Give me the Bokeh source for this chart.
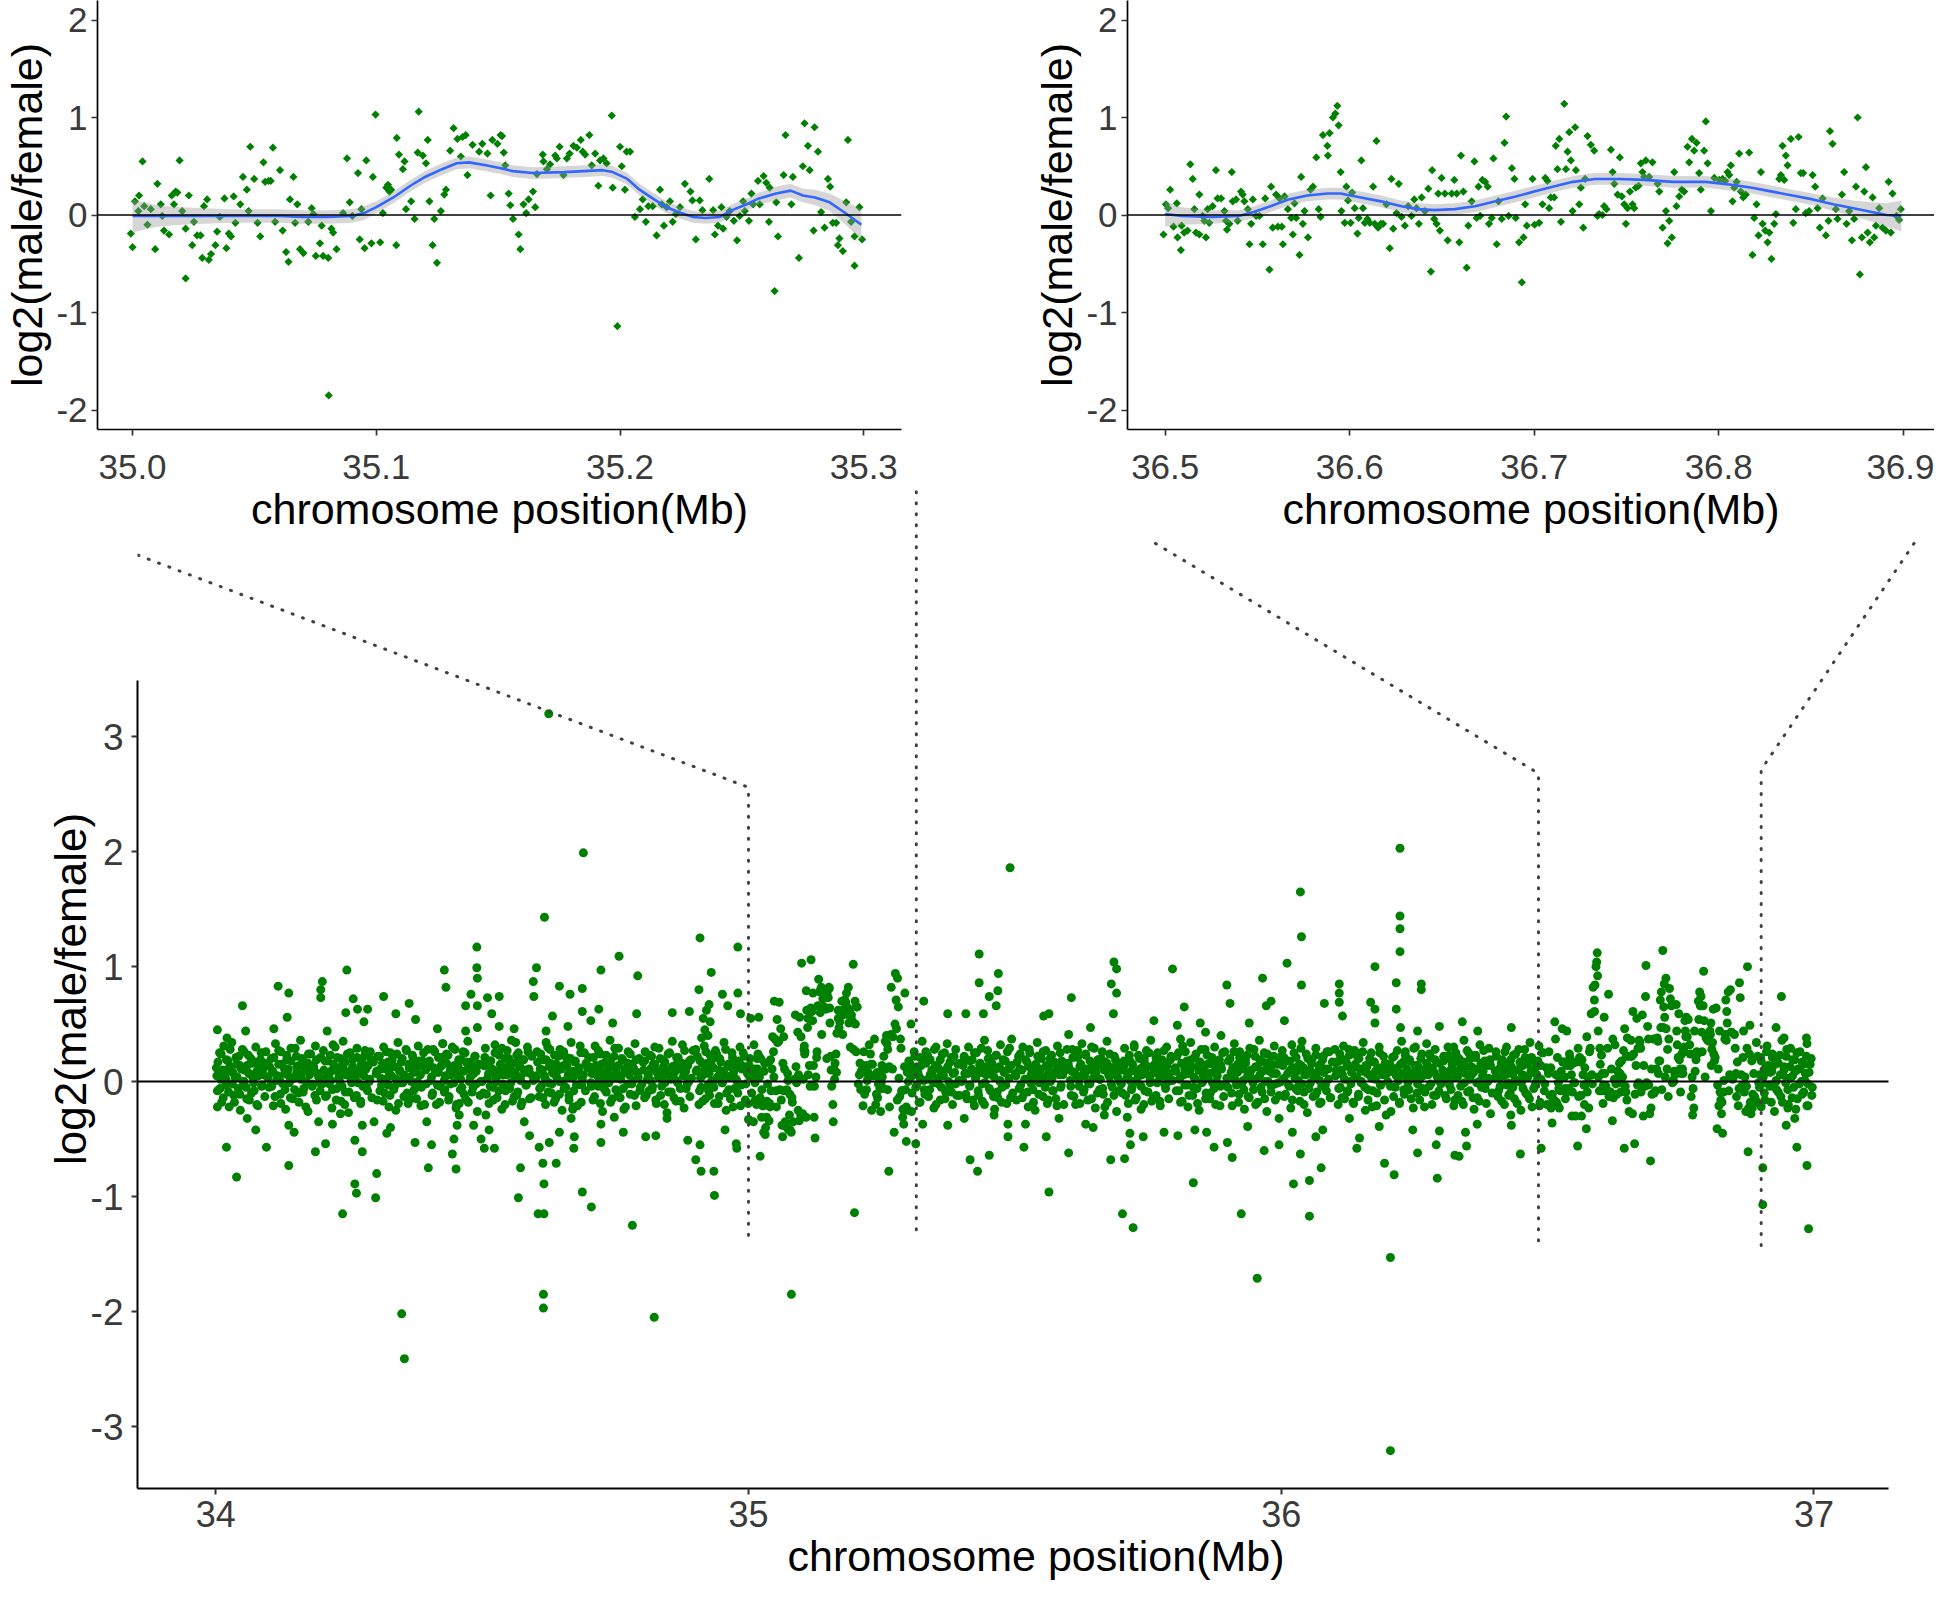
import math
from bokeh.plotting import figure
from bokeh.layouts import column, row
from bokeh.models import Range1d, Span, FixedTicker, NumeralTickFormatter
from bokeh.embed import file_html
from bokeh.resources import INLINE

FONT = "Liberation Sans"
POINT_GREEN = "#008000"
SMOOTH_BLUE = "#3366FF"
BAND_GREY = "#999999"
GUIDE_GREY = "#404040"

X_TITLE = "chromosome position(Mb)"
Y_TITLE = "log2(male/female)"

tl_ticks = [35.0, 35.1, 35.2, 35.3]
tr_ticks = [36.5, 36.6, 36.7, 36.8, 36.9]
top_y_ticks = [-2, -1, 0, 1, 2]
bottom_x_ticks = [34, 35, 36, 37]
bottom_y_ticks = [-3, -2, -1, 0, 1, 2, 3]

# ---------------- top-left window (35.0 - 35.3 Mb) ----------------
tl_points = [
(34.9993,-0.19),(35.0,-0.33),(35.001,0.14),(35.0027,0.20),(35.0024,0.04),(35.0041,0.55),(35.0048,0.09),(35.0061,-0.10),(35.0075,0.06),(35.0093,-0.35),(35.0102,0.32),(35.0116,0.11),(35.0122,-0.01),(35.0129,-0.16),(35.015,-0.20),(35.0161,0.20),(35.017,0.11),(35.0177,0.24),(35.0184,0.23),(35.0193,0.56),(35.0204,0.04),(35.0218,-0.14),(35.0218,-0.65),(35.0231,0.20),(35.0245,-0.31),(35.0252,-0.07),(35.0265,-0.21),(35.0279,-0.21),(35.0286,-0.44),(35.0293,0.09),(35.0306,0.16),(35.0313,-0.46),(35.0322,-0.40),(35.034,-0.31),(35.0347,-0.17),(35.0358,-0.02),(35.0377,0.17),(35.0385,-0.34),(35.0395,-0.19),(35.0404,-0.22),(35.0415,0.19),(35.0422,-0.08),(35.0442,0.11),(35.0453,0.39),(35.0469,0.26),(35.0476,0.04),(35.0483,0.70),(35.0499,0.37),(35.0513,-0.08),(35.0524,-0.22),(35.0537,0.54),(35.0544,0.34),(35.0558,0.35),(35.0567,0.35),(35.0576,0.69),(35.0585,-0.07),(35.0605,0.46),(35.0616,-0.16),(35.063,-0.38),(35.064,-0.48),(35.0646,0.16),(35.066,0.39),(35.0667,-0.08),(35.0676,0.11),(35.0687,-0.35),(35.0701,-0.39),(35.0721,-0.07),(35.0735,0.07),(35.0742,0.01),(35.0752,-0.42),(35.0769,-0.29),(35.0776,-0.11),(35.0782,-0.42),(35.0803,-0.44),(35.0805,-1.85),(35.0816,-0.14),(35.0823,-0.18),(35.0837,-0.35),(35.0864,0.02),(35.088,0.58),(35.0891,0.13),(35.0902,-0.01),(35.0925,0.43),(35.0932,-0.25),(35.0939,0.06),(35.0952,-0.34),(35.0959,0.56),(35.098,-0.29),(35.0986,0.39),(35.0997,1.03),(35.1016,-0.28),(35.1027,0.02),(35.1041,0.28),(35.1048,0.31),(35.1054,0.24),(35.1061,0.26),(35.1082,-0.31),(35.1084,0.79),(35.1093,0.62),(35.1109,0.47),(35.1116,0.55),(35.1122,0.06),(35.1143,0.14),(35.1157,-0.04),(35.117,0.64),(35.1174,1.06),(35.1191,0.61),(35.1204,0.53),(35.1211,0.77),(35.1218,0.14),(35.1231,-0.31),(35.1238,-0.04),(35.1249,-0.49),(35.1265,0.04),(35.1279,0.21),(35.1286,0.26),(35.1303,0.66),(35.1317,0.89),(35.1333,0.78),(35.1347,0.60),(35.1354,0.80),(35.1367,0.82),(35.1374,0.41),(35.1395,0.72),(35.1422,0.65),(35.1435,0.73),(35.1456,0.63),(35.1469,0.20),(35.1476,0.77),(35.1497,0.73),(35.151,0.82),
(35.1516,0.81),(35.1523,0.64),(35.1529,0.51),(35.1543,0.22),(35.155,0.10),(35.1561,-0.04),(35.1584,-0.20),(35.1591,-0.35),(35.1604,0.11),(35.1615,0.02),(35.1625,0.16),(35.1643,0.24),(35.1652,0.08),(35.1659,0.42),(35.1683,0.62),(35.1686,0.55),(35.17,0.47),(35.1713,0.52),(35.1734,0.61),(35.1741,0.58),(35.1752,0.70),(35.1768,0.41),(35.1782,0.58),(35.1793,0.63),(35.1809,0.71),(35.1823,0.69),(35.1839,0.77),(35.1847,0.65),(35.1857,0.62),(35.1874,0.82),(35.1884,0.51),(35.1898,0.63),(35.1911,0.30),(35.1918,0.56),(35.1932,0.58),(35.1945,0.53),(35.1966,1.02),(35.197,0.28),(35.1989,-1.14),(35.2,0.70),(35.2007,0.50),(35.202,0.26),(35.2027,0.65),(35.2041,0.65),(35.2061,-0.02),(35.2082,0.06),(35.2093,0.16),(35.2106,-0.07),(35.2116,0.09),(35.2134,0.09),(35.215,-0.21),(35.2164,0.26),(35.2171,0.11),(35.218,-0.11),(35.2191,0.08),(35.2205,0.14),(35.2216,-0.07),(35.2229,0.01),(35.2246,0.08),(35.2266,0.32),(35.2289,0.24),(35.2297,0.15),(35.2311,-0.25),(35.2327,0.15),(35.2338,0.05),(35.2366,0.37),(35.2382,0.05),(35.2389,-0.20),(35.2402,-0.11),(35.2416,0.08),(35.2423,-0.14),(35.2437,-0.02),(35.245,0.04),(35.2467,-0.06),(35.248,-0.26),(35.2491,-0.01),(35.2505,0.14),(35.2512,0.04),(35.2529,-0.06),(35.2539,0.22),(35.2546,0.11),(35.2566,0.35),(35.2573,0.11),(35.2589,0.40),(35.26,0.33),(35.2614,0.28),(35.2611,-0.07),(35.2634,-0.78),(35.2641,0.13),(35.2648,-0.22),(35.2671,0.41),(35.2679,0.82),(35.2703,0.11),(35.2709,0.39),(35.2734,-0.44),(35.275,0.50),(35.2757,0.94),(35.2771,0.71),(35.2778,0.46),(35.2794,-0.16),(35.2798,0.90),(35.2812,0.65),(35.2825,0.03),(35.2839,-0.13),(35.2853,0.37),(35.2862,0.29),(35.2873,-0.08),(35.2887,-0.08),(35.2894,-0.31),(35.29,-0.24),(35.2914,-0.37),(35.2928,0.13),(35.2935,0.77),(35.2948,-0.07),(35.2962,-0.52),(35.2962,-0.22),(35.2982,0.08),(35.2993,-0.25),
]
tl_smooth_x = [35.000,35.010,35.020,35.030,35.040,35.050,35.060,35.070,35.080,35.090,35.095,35.100,35.107,35.114,35.120,35.127,35.133,35.138,35.145,35.151,35.156,35.164,35.177,35.185,35.193,35.197,35.203,35.208,35.214,35.219,35.225,35.230,35.235,35.241,35.246,35.252,35.257,35.264,35.270,35.275,35.280,35.286,35.293,35.299]
tl_smooth_y = [-0.01,-0.01,-0.01,-0.01,-0.01,-0.01,-0.01,-0.02,-0.02,-0.01,0.02,0.08,0.18,0.30,0.39,0.47,0.53,0.54,0.51,0.48,0.45,0.43,0.44,0.45,0.46,0.44,0.37,0.26,0.16,0.08,0.02,-0.02,-0.03,-0.02,0.05,0.11,0.17,0.22,0.25,0.20,0.18,0.13,0.01,-0.10]
tl_smooth_se = [0.17,0.11,0.09,0.08,0.07,0.07,0.07,0.07,0.07,0.07,0.07,0.06,0.06,0.06,0.06,0.06,0.06,0.06,0.06,0.06,0.06,0.06,0.06,0.06,0.06,0.06,0.06,0.06,0.06,0.06,0.06,0.06,0.06,0.06,0.06,0.06,0.06,0.07,0.07,0.07,0.08,0.09,0.12,0.16]

# ---------------- top-right window (36.5 - 36.9 Mb) ----------------
tr_points = [
(36.4991,-0.20),(36.5004,0.11),(36.5016,0.07),(36.5027,0.26),(36.5045,-0.12),(36.5063,0.12),(36.5067,-0.23),(36.5085,-0.36),(36.5089,-0.11),(36.5103,-0.18),(36.5121,-0.16),(36.5136,0.52),(36.5149,0.37),(36.5158,0.06),(36.5167,-0.18),(36.5185,0.21),(36.5185,-0.20),(36.5203,-0.01),(36.5212,-0.06),(36.5221,-0.23),(36.523,0.06),(36.5239,-0.08),(36.5257,0.09),(36.5275,0.46),(36.5284,0.17),(36.5303,0.17),(36.5321,0.04),(36.533,-0.06),(36.5335,-0.15),(36.5348,-0.09),(36.5361,0.44),(36.5366,0.14),(36.5384,0.16),(36.5393,-0.06),(36.5411,0.24),(36.542,0.21),(36.5429,0.14),(36.5448,0.06),(36.5457,-0.30),(36.5466,-0.09),(36.5475,0.16),(36.5493,-0.01),(36.5511,-0.01),(36.5529,-0.30),(36.5542,0.17),(36.5565,-0.56),(36.5574,0.29),(36.5583,-0.13),(36.5601,0.21),(36.5611,-0.12),(36.562,0.17),(36.5632,-0.12),(36.5638,-0.30),(36.5647,0.19),(36.5665,0.06),(36.5683,-0.03),(36.5692,-0.20),(36.5701,0.12),(36.571,-0.03),(36.5728,-0.41),(36.5737,0.39),(36.5746,-0.09),(36.5755,0.04),(36.5774,-0.23),(36.5788,0.26),(36.5801,0.29),(36.5819,0.59),(36.5832,0.06),(36.5842,-0.02),(36.5855,0.82),(36.5879,0.71),(36.5882,0.61),(36.5891,0.84),(36.5909,1.00),(36.5922,1.04),(36.5933,1.12),(36.594,0.92),(36.5951,0.44),(36.5955,0.04),(36.5973,-0.08),(36.5982,0.29),(36.5991,0.15),(36.6005,-0.08),(36.6013,0.23),(36.6027,0.07),(36.6042,-0.19),(36.6049,-0.03),(36.6063,0.56),(36.6072,0.07),(36.6082,-0.08),(36.6096,-0.04),(36.6109,-0.08),(36.6127,0.29),(36.6136,-0.09),(36.6145,0.76),(36.6154,-0.13),(36.6168,-0.09),(36.6181,-0.09),(36.6199,0.11),(36.6217,-0.34),(36.6226,0.37),(36.6236,-0.14),(36.6254,0.02),(36.6266,0.32),(36.6281,-0.02),(36.6299,-0.11),(36.6317,0.09),(36.6335,-0.01),(36.635,0.16),(36.6362,0.07),(36.6375,-0.09),(36.639,0.18),(36.6408,0.04),(36.6426,0.27),(36.644,-0.58),(36.6447,0.46),(36.6458,-0.04),(36.6471,-0.09),(36.648,0.22),(36.6489,-0.16),(36.6498,0.38),(36.6516,0.22),(36.6531,-0.26),(36.6553,0.22),(36.6567,0.36),(36.658,0.22),(36.6594,-0.28),(36.6603,0.61),(36.6616,0.24),(36.6634,-0.54),(36.6643,-0.11),(36.6661,0.14),(36.6676,0.55),(36.6688,-0.03),(36.6698,0.29),(36.6707,-0.01),(36.6719,0.36),(36.6734,0.34),(36.6748,0.29),(36.6755,-0.09),(36.677,-0.03),(36.6779,0.58),(36.6797,-0.30),(36.6806,0.14),(36.6824,-0.04),(36.6839,0.74),(36.6848,1.01),(36.6861,-0.01),(36.6879,0.48),(36.6893,0.37),(36.69,-0.03),(36.6918,-0.28),(36.6933,-0.69),(36.6942,-0.23),(36.6951,0.11),(36.696,-0.11),(36.6991,0.37),(36.7002,-0.10),
(36.7027,-0.08),(36.7045,0.11),(36.706,0.38),(36.7072,0.35),(36.7081,0.07),(36.709,0.18),(36.7108,0.18),(36.7117,0.71),(36.7126,0.47),(36.7136,0.78),(36.7145,-0.07),(36.7163,1.14),(36.7172,0.47),(36.7181,0.65),(36.719,0.85),(36.7199,0.56),(36.7208,0.04),(36.7222,0.90),(36.7226,0.46),(36.7244,0.11),(36.7253,0.28),(36.7266,-0.13),(36.7276,0.37),(36.7289,0.81),(36.7307,0.72),(36.7325,0.66),(36.7343,-0.01),(36.7352,0.01),(36.737,0.00),(36.7379,0.09),(36.7392,0.06),(36.7416,0.67),(36.7425,0.44),(36.7434,0.32),(36.7452,0.21),(36.7464,0.59),(36.7475,0.19),(36.7488,0.11),(36.7497,-0.09),(36.7506,0.07),(36.7519,0.24),(36.7533,0.11),(36.7542,0.07),(36.7551,0.28),(36.7566,0.30),(36.7578,0.53),(36.7587,0.44),(36.7596,0.39),(36.7605,0.56),(36.7623,0.39),(36.7641,0.54),(36.7669,0.32),(36.7678,0.24),(36.7696,-0.13),(36.7714,0.04),(36.7723,-0.29),(36.7732,-0.06),(36.7746,-0.23),(36.7759,0.44),(36.7771,0.09),(36.7786,0.19),(36.78,0.26),(36.7813,0.24),(36.7831,0.70),(36.784,0.54),(36.7855,0.78),(36.7867,0.66),(36.788,0.74),(36.7894,0.43),(36.7903,0.26),(36.7921,0.66),(36.793,0.96),(36.794,0.53),(36.7958,0.04),(36.7976,0.38),(36.8003,0.36),(36.8021,0.37),(36.8035,0.35),(36.8048,0.44),(36.8057,0.41),(36.8066,0.51),(36.8075,0.14),(36.8084,0.28),(36.8097,0.34),(36.8111,0.63),(36.812,0.24),(36.8133,0.18),(36.8147,0.21),(36.8165,0.64),(36.8183,-0.41),(36.8192,-0.03),(36.8205,0.11),(36.8216,-0.21),(36.8229,0.44),(36.8238,-0.09),(36.8252,-0.16),(36.8265,-0.28),(36.8274,-0.18),(36.8286,-0.45),(36.8301,-0.09),(36.831,0.01),(36.8328,0.37),(36.8337,0.41),(36.8346,0.71),(36.8355,0.36),(36.8364,0.61),(36.8373,0.51),(36.8391,0.78),(36.8404,-0.08),(36.8418,0.06),(36.8433,0.80),(36.8445,0.43),(36.8458,0.43),(36.8472,0.02),(36.849,0.04),(36.8509,0.41),(36.8523,0.29),(36.8536,0.07),(36.8548,-0.13),(36.8563,0.17),(36.8581,-0.21),(36.8595,-0.06),(36.8603,0.86),(36.8617,0.73),(36.8635,0.06),(36.8644,-0.04),(36.8668,0.21),(36.868,0.44),(36.8693,-0.09),(36.8707,0.04),(36.8722,-0.26),(36.8734,-0.04),(36.8744,0.29),(36.8753,1.00),(36.8765,-0.61),(36.8776,-0.23),(36.8789,0.24),(36.8798,0.49),(36.8807,-0.18),(36.8819,-0.28),(36.8834,0.18),(36.8843,-0.23),(36.8852,-0.11),(36.887,0.07),(36.8888,-0.13),(36.8906,-0.16),(36.8921,0.34),(36.8933,-0.18),(36.8942,0.22),(36.8964,-0.01),(36.8978,-0.05),(36.8987,0.06),
]
tr_smooth_x = [36.500,36.509,36.525,36.540,36.548,36.557,36.567,36.577,36.588,36.595,36.606,36.617,36.628,36.637,36.646,36.657,36.668,36.679,36.690,36.700,36.710,36.721,36.733,36.746,36.760,36.775,36.793,36.807,36.818,36.829,36.840,36.851,36.862,36.873,36.883,36.891,36.899]
tr_smooth_y = [0.01,-0.01,-0.02,-0.01,0.03,0.09,0.16,0.20,0.22,0.22,0.18,0.14,0.09,0.06,0.05,0.06,0.09,0.14,0.19,0.24,0.29,0.34,0.37,0.37,0.36,0.34,0.34,0.31,0.28,0.24,0.20,0.16,0.11,0.07,0.03,0.00,-0.01]
tr_smooth_se = [0.13,0.09,0.07,0.06,0.06,0.06,0.06,0.06,0.06,0.06,0.06,0.06,0.06,0.06,0.06,0.06,0.06,0.06,0.06,0.06,0.06,0.06,0.06,0.06,0.06,0.06,0.06,0.06,0.06,0.06,0.06,0.06,0.07,0.08,0.10,0.12,0.16]

# ---------------- whole region (34 - 37 Mb): points outside the two windows ----------------
bottom_points = [
(34.003,0.45),(34.021,0.38),(34.050,0.66),(34.056,0.44),(34.109,0.46),(34.117,0.83),(34.137,0.77),(34.134,0.56),(34.200,0.87),(34.197,0.80),(34.197,0.73),(34.209,0.44),(34.246,0.97),(34.258,0.72),(34.244,0.60),(34.266,0.63),(34.285,0.63),(34.278,0.52),(34.315,0.74),(34.338,0.59),(34.363,0.68),(34.375,0.54),(34.429,0.97),(34.432,0.82),(34.416,0.46),(34.426,0.33),(34.490,1.17),(34.490,0.99),(34.491,0.90),(34.479,0.76),(34.469,0.66),(34.491,0.66),(34.510,0.73),(34.532,0.74),(34.518,0.59),(34.532,0.48),(34.469,0.44),(34.491,0.47),(34.560,0.46),(34.563,0.34),(34.617,1.43),(34.602,0.99),(34.596,0.87),(34.597,0.74),(34.632,0.57),(34.645,0.83),(34.665,0.76),(34.620,0.44),(34.661,0.48),(34.620,0.34),
(34.003,-0.22),(34.020,-0.57),(34.039,-0.83),(34.059,-0.32),(34.075,-0.42),(34.095,-0.57),(34.137,-0.38),(34.147,-0.44),(34.137,-0.73),(34.187,-0.61),(34.193,-0.35),(34.206,-0.54),(34.219,-0.37),(34.234,-0.28),(34.238,-1.15),(34.261,-0.89),(34.264,-0.97),(34.261,-0.51),(34.275,-0.38),(34.275,-0.61),(34.297,-0.35),(34.302,-0.80),(34.300,-1.01),(34.321,-0.45),(34.328,-0.40),(34.374,-0.53),(34.396,-0.35),(34.405,-0.55),(34.399,-0.75),(34.444,-0.63),(34.447,-0.50),(34.453,-0.38),(34.457,-0.29),(34.457,-0.19),(34.451,-0.76),(34.484,-0.38),(34.498,-0.50),(34.504,-0.58),(34.523,-0.58),(34.513,-0.42),(34.507,-0.29),(34.572,-0.75),(34.568,-1.01),(34.579,-0.35),(34.589,-0.47),(34.607,-0.57),(34.605,-1.15),(34.616,-1.15),(34.614,-0.71),(34.616,-0.89),(34.626,-0.53),(34.639,-0.71),(34.645,-0.44),(34.667,-0.32),(34.672,-0.58),(34.670,-0.24),
(34.625,3.20),(34.349,-2.02),(34.354,-2.41),(34.615,-1.97),(34.615,-1.85),(34.823,-2.05),
(34.690,1.99),(34.688,0.81),(34.688,0.61),(34.704,0.53),(34.719,0.63),(34.723,0.97),(34.757,1.09),(34.745,0.51),(34.792,0.92),(34.790,0.59),(34.857,0.60),(34.889,0.61),(34.909,1.25),(34.907,0.80),(34.930,0.95),(34.926,0.67),(34.951,0.76),(34.961,0.66),(34.980,1.17),(34.980,0.77),(34.985,0.59),
(34.915,0.55),(34.918,0.45),(34.921,0.62),(34.924,0.40),(34.928,0.52),(34.912,0.38),
(34.673,-0.48),(34.688,-0.96),(34.705,-1.09),(34.723,-0.37),(34.723,-0.53),(34.748,-0.31),(34.765,-0.44),(34.782,-1.25),(34.807,-0.48),(34.826,-0.47),(34.847,-0.32),(34.886,-0.51),(34.909,-0.55),(34.901,-0.68),(34.911,-0.78),(34.935,-0.78),(34.936,-0.99),(34.956,-0.42),(34.978,-0.58),(34.977,-0.54),
(35.329,0.70),(35.305,0.50),(35.374,0.59),(35.408,0.59),(35.433,1.11),(35.433,0.86),(35.469,0.94),(35.468,0.79),(35.452,0.74),(35.465,0.66),(35.441,0.59),(35.491,1.86),(35.494,0.37),
(35.314,-0.54),(35.327,-0.37),(35.374,-0.38),(35.405,-0.32),(35.416,-0.68),(35.430,-0.78),(35.452,-0.64),(35.461,-0.29),(35.487,-0.48),(35.487,-0.37),
(36.223,2.03),(36.036,1.65),(36.038,1.26),(36.223,1.44),(36.223,1.33),(36.223,1.13),(36.011,1.03),(36.176,1.00),(36.216,0.86),(36.216,0.63),(36.263,0.85),(36.263,0.80),(36.168,0.69),(36.176,0.63),(36.176,0.51),(36.224,0.47),(36.109,0.85),(36.109,0.77),(36.109,0.69),(36.115,0.57),(36.081,0.68),(36.038,0.84),(35.965,0.90),(35.898,0.84),(35.904,0.68),(35.818,0.65),(35.796,0.98),(35.686,1.04),(35.691,0.98),(35.681,0.85),(35.691,0.77),(35.685,0.59),(35.606,0.73),(35.554,0.57),(35.564,0.59),(35.805,0.49),(35.761,0.53),(35.848,0.51),(35.972,0.66),(35.981,0.70),(36.006,0.53),(36.297,0.48),(36.256,0.44),(35.811,0.37),(35.858,0.43),(35.642,0.47),(35.601,0.41),(35.887,0.40),(35.940,0.51),
(35.517,-0.57),(35.520,-0.37),(35.564,-0.96),(35.559,-0.48),(35.583,-0.32),(35.601,-0.62),(35.633,-0.37),(35.647,-0.40),(35.668,-0.29),(35.680,-0.68),(35.702,-1.15),(35.722,-1.27),(35.706,-0.67),(35.717,-0.55),(35.716,-0.45),(35.711,-0.31),(35.741,-0.48),(35.780,-0.44),(35.806,-0.47),(35.835,-0.88),(35.838,-0.42),(35.860,-0.44),(35.874,-0.57),(35.899,-0.53),(35.908,-0.66),(35.925,-1.15),(35.937,-0.39),(35.968,-0.60),(35.996,-0.55),(35.996,-0.32),(36.021,-0.44),(36.023,-0.89),(36.036,-0.63),(36.053,-0.86),(36.053,-1.17),(36.075,-0.75),(36.065,-0.48),(36.078,-0.42),(36.128,-0.32),(36.142,-0.58),(36.147,-0.49),(36.184,-0.39),(36.197,-0.29),(36.194,-0.71),(36.212,-0.81),(36.247,-0.42),(36.256,-0.62),(36.291,-0.55),(36.293,-0.84),(36.297,-0.43),(36.326,-0.64),
(35.955,-1.71),(36.205,-1.53),(36.205,-3.21),
(36.340,0.52),(36.369,0.44),(36.432,0.47),
(36.334,-0.65),(36.348,-0.56),(36.346,-0.44),(36.368,-0.37),(36.393,-0.28),(36.432,-0.38),(36.431,-0.29),(36.449,-0.63),(36.488,-0.58),
(36.939,0.74),(36.929,0.47),(36.944,0.38),(36.986,0.38),
(36.904,-0.75),(36.904,-1.07),(36.901,-0.22),(36.948,-0.38),(36.964,-0.32),(36.951,-0.23),(36.968,-0.57),(36.987,-0.73),(36.990,-1.28),(36.987,-0.21),
]

# dense core of the cloud (estimated), outside the two windows - first layer
band_x = [
34.001,34.003,34.007,34.009,34.011,34.015,34.017,34.019,34.023,34.025,34.028,34.030,34.034,34.036,34.038,34.042,34.045,34.046,34.050,34.053,34.054,34.058,34.061,34.063,34.067,34.069,34.071,34.075,34.077,34.080,34.084,34.086,34.088,34.092,34.094,34.098,
34.100,34.104,34.106,34.108,34.112,34.114,34.118,34.121,34.122,34.126,34.129,34.131,34.133,34.137,34.140,34.141,34.144,34.148,34.151,34.152,34.156,34.159,34.160,34.164,34.166,34.170,34.173,34.174,34.178,34.181,34.183,34.187,34.189,34.191,34.195,34.197,
34.202,34.205,34.206,34.210,34.213,34.216,34.218,34.220,34.224,34.227,34.228,34.232,34.235,34.237,34.239,34.243,34.244,34.247,34.249,34.254,34.255,34.257,34.262,34.264,34.265,34.268,34.272,34.273,34.276,34.279,34.282,34.285,34.289,34.290,34.293,34.296,
34.301,34.303,34.307,34.309,34.311,34.315,34.317,34.319,34.323,34.325,34.328,34.330,34.334,34.336,34.338,34.342,34.345,34.346,34.350,34.353,34.354,34.358,34.361,34.363,34.367,34.369,34.371,34.375,34.377,34.380,34.384,34.386,34.388,34.392,34.394,34.398,
34.400,34.404,34.406,34.408,34.412,34.414,34.418,34.421,34.422,34.426,34.429,34.431,34.433,34.437,34.440,34.441,34.444,34.448,34.451,34.452,34.456,34.459,34.460,34.464,34.466,34.470,34.473,34.474,34.478,34.481,34.483,34.487,34.489,34.491,34.495,34.497,
34.502,34.505,34.506,34.510,34.513,34.516,34.518,34.520,34.524,34.527,34.528,34.532,34.535,34.537,34.539,34.543,34.544,34.547,34.549,34.554,34.555,34.557,34.562,34.564,34.565,34.568,34.572,34.573,34.576,34.579,34.582,34.585,34.589,34.590,34.593,34.596,
34.601,34.603,34.607,34.609,34.611,34.615,34.617,34.619,34.623,34.625,34.628,34.630,34.634,34.636,34.638,34.642,34.645,34.646,34.650,34.653,34.654,34.658,34.661,34.663,34.667,34.669,34.671,34.675,34.677,34.680,34.684,34.686,34.688,34.692,34.694,34.698,
34.700,34.704,34.706,34.708,34.712,34.714,34.718,34.721,34.722,34.726,34.729,34.731,34.733,34.737,34.740,34.741,34.744,34.748,34.751,34.752,34.756,34.759,34.760,34.764,34.766,34.770,34.773,34.774,34.778,34.781,34.783,34.787,34.789,34.791,34.795,34.797,
34.802,34.805,34.806,34.810,34.813,34.816,34.818,34.820,34.824,34.827,34.828,34.832,34.835,34.837,34.839,34.843,34.844,34.847,34.849,34.854,34.855,34.857,34.862,34.864,34.865,34.868,34.872,34.873,34.876,34.879,34.882,34.885,34.889,34.890,34.893,34.896,
34.901,34.903,34.907,34.909,34.911,34.915,34.917,34.919,34.923,34.925,34.928,34.930,34.934,34.936,34.938,34.942,34.945,34.946,34.950,34.953,34.954,34.958,34.961,34.963,34.967,34.969,34.971,34.975,34.977,34.980,34.984,34.986,34.988,34.992,34.994,34.998,
35.300,35.304,35.306,35.308,35.312,35.314,35.318,35.321,35.322,35.326,35.329,35.331,35.333,35.337,35.340,35.341,35.344,35.348,35.351,35.352,35.356,35.359,35.360,35.364,35.366,35.370,35.373,35.374,35.378,35.381,35.383,35.387,35.389,35.391,35.395,35.397,
35.402,35.405,35.406,35.410,35.413,35.416,35.418,35.420,35.424,35.427,35.428,35.432,35.435,35.437,35.439,35.443,35.444,35.447,35.449,35.454,35.455,35.457,35.462,35.464,35.465,35.468,35.472,35.473,35.476,35.479,35.482,35.485,35.489,35.490,35.493,35.496,
35.501,35.503,35.507,35.509,35.511,35.515,35.517,35.519,35.523,35.525,35.528,35.530,35.534,35.536,35.538,35.542,35.545,35.546,35.550,35.553,35.554,35.558,35.561,35.563,35.567,35.569,35.571,35.575,35.577,35.580,35.584,35.586,35.588,35.592,35.594,35.598,
35.600,35.604,35.606,35.608,35.612,35.614,35.618,35.621,35.622,35.626,35.629,35.631,35.633,35.637,35.640,35.641,35.644,35.648,35.651,35.652,35.656,35.659,35.660,35.664,35.666,35.670,35.673,35.674,35.678,35.681,35.683,35.687,35.689,35.691,35.695,35.697,
35.702,35.705,35.706,35.710,35.713,35.716,35.718,35.720,35.724,35.727,35.728,35.732,35.735,35.737,35.739,35.743,35.744,35.747,35.749,35.754,35.755,35.757,35.762,35.764,35.765,35.768,35.772,35.773,35.776,35.779,35.782,35.785,35.789,35.790,35.793,35.796,
35.801,35.803,35.807,35.809,35.811,35.815,35.817,35.819,35.823,35.825,35.828,35.830,35.834,35.836,35.838,35.842,35.845,35.846,35.850,35.853,35.854,35.858,35.861,35.863,35.867,35.869,35.871,35.875,35.877,35.880,35.884,35.886,35.888,35.892,35.894,35.898,
35.900,35.904,35.906,35.908,35.912,35.914,35.918,35.921,35.922,35.926,35.929,35.931,35.933,35.937,35.940,35.941,35.944,35.948,35.951,35.952,35.956,35.959,35.960,35.964,35.966,35.970,35.973,35.974,35.978,35.981,35.983,35.987,35.989,35.991,35.995,35.997,
36.002,36.005,36.006,36.010,36.013,36.016,36.018,36.020,36.024,36.027,36.028,36.032,36.035,36.037,36.039,36.043,36.044,36.047,36.049,36.054,36.055,36.057,36.062,36.064,36.065,36.068,36.072,36.073,36.076,36.079,36.082,36.085,36.089,36.090,36.093,36.096,
36.101,36.103,36.107,36.109,36.111,36.115,36.117,36.119,36.123,36.125,36.128,36.130,36.134,36.136,36.138,36.142,36.145,36.146,36.150,36.153,36.154,36.158,36.161,36.163,36.167,36.169,36.171,36.175,36.177,36.180,36.184,36.186,36.188,36.192,36.194,36.198,
36.200,36.204,36.206,36.208,36.212,36.214,36.218,36.221,36.222,36.226,36.229,36.231,36.233,36.237,36.240,36.241,36.244,36.248,36.251,36.252,36.256,36.259,36.260,36.264,36.266,36.270,36.273,36.274,36.278,36.281,36.283,36.287,36.289,36.291,36.295,36.297,
36.302,36.305,36.306,36.310,36.313,36.316,36.318,36.320,36.324,36.327,36.328,36.332,36.335,36.337,36.339,36.343,36.344,36.347,36.349,36.354,36.355,36.357,36.362,36.364,36.365,36.368,36.372,36.373,36.376,36.379,36.382,36.385,36.389,36.390,36.393,36.396,
36.401,36.403,36.407,36.409,36.411,36.415,36.417,36.419,36.423,36.425,36.428,36.430,36.434,36.436,36.438,36.442,36.445,36.446,36.450,36.453,36.454,36.458,36.461,36.463,36.467,36.469,36.471,36.475,36.477,36.480,36.484,36.486,36.488,36.492,36.494,36.498,
36.900,36.904,36.906,36.908,36.912,36.914,36.918,36.921,36.922,36.926,36.929,36.931,36.933,36.937,36.940,36.941,36.944,36.948,36.951,36.952,36.956,36.959,36.960,36.964,36.966,36.970,36.973,36.974,36.978,36.981,36.983,36.987,36.989,36.991,36.995,36.997,
]
band_y = [
0.12,-0.08,0.25,0.02,-0.18,0.31,0.06,-0.03,0.18,-0.22,0.09,0.34,-0.12,0.04,0.21,-0.06,0.14,-0.25,0.28,0.00,0.10,-0.15,0.23,0.07,-0.10,0.16,-0.01,0.30,-0.20,0.05,0.19,-0.04,0.11,-0.13,0.26,0.03,
-0.05,0.20,0.08,-0.21,0.33,0.01,0.15,-0.11,0.26,-0.02,0.11,-0.24,0.19,0.05,-0.14,0.29,0.03,-0.07,0.22,0.13,-0.18,0.36,0.06,-0.09,0.17,0.00,-0.26,0.24,0.09,-0.04,0.14,0.31,-0.16,0.07,-0.01,0.21,
0.27,0.03,-0.13,0.18,-0.02,0.09,-0.23,0.32,0.12,-0.06,0.21,0.01,-0.17,0.14,0.35,-0.09,0.06,0.24,-0.27,0.10,-0.01,0.19,0.04,-0.12,0.29,0.08,-0.19,0.15,-0.04,0.22,0.11,-0.08,0.02,0.26,-0.14,0.17,
0.07,-0.16,0.22,0.11,-0.03,0.30,-0.10,0.02,0.17,-0.22,0.25,0.05,-0.07,0.13,-0.25,0.34,0.09,-0.01,0.20,-0.13,0.04,0.27,-0.19,0.12,0.00,0.23,-0.08,0.16,-0.15,0.31,0.06,-0.05,0.18,-0.20,0.10,0.28,
0.16,0.01,-0.12,0.28,0.08,-0.20,0.21,-0.04,0.13,0.33,-0.09,0.05,0.24,-0.16,0.10,-0.02,0.30,0.14,-0.23,0.07,0.19,-0.07,0.02,0.26,-0.11,0.17,0.35,-0.18,0.04,0.12,-0.05,0.22,0.09,-0.26,0.15,0.00,
-0.10,0.14,0.29,0.03,-0.19,0.18,0.09,-0.05,0.32,0.00,-0.14,0.23,0.11,-0.24,0.06,0.20,-0.08,0.27,0.13,-0.01,0.36,-0.17,0.08,0.16,-0.12,0.25,0.04,-0.21,0.19,0.10,-0.03,0.30,-0.15,0.07,0.22,0.01,
0.03,0.26,-0.13,0.11,-0.04,0.19,0.05,-0.20,0.30,-0.01,0.16,-0.10,0.07,0.23,-0.15,0.10,0.00,0.28,-0.25,0.14,-0.06,0.21,0.04,-0.12,0.34,0.09,-0.22,0.18,-0.03,0.06,0.31,-0.18,0.02,0.25,-0.08,0.12,
0.21,-0.01,0.07,-0.16,0.31,0.14,-0.04,0.09,0.24,-0.26,0.00,0.17,-0.09,0.06,0.36,-0.18,0.13,0.22,-0.07,0.03,0.29,-0.14,0.05,0.19,-0.24,0.11,-0.02,0.26,-0.11,0.15,0.01,0.33,-0.21,0.08,0.20,-0.05,
0.17,-0.14,0.26,0.02,-0.08,0.11,0.22,-0.04,0.15,-0.19,0.08,0.29,-0.12,0.04,0.19,-0.01,0.10,-0.27,0.24,0.06,-0.09,0.35,0.14,-0.17,0.01,0.21,-0.06,0.12,0.32,-0.23,0.09,-0.02,0.18,-0.13,0.03,0.27,
0.28,0.10,-0.20,0.18,-0.05,0.06,0.31,-0.15,0.16,-0.08,0.23,0.00,0.12,-0.19,0.27,0.04,-0.13,0.20,-0.01,0.09,0.34,-0.25,0.13,-0.07,0.05,0.25,-0.22,0.17,0.02,-0.10,0.30,-0.03,0.11,0.22,-0.16,0.07,
0.00,0.15,-0.26,0.09,0.22,-0.05,0.12,0.04,-0.18,0.35,0.17,-0.11,0.26,0.02,-0.07,0.19,0.07,-0.23,0.14,0.30,-0.02,0.10,-0.16,0.24,0.05,-0.09,0.33,0.13,-0.04,0.21,-0.20,0.08,0.28,-0.12,0.01,0.16,
0.01,0.22,0.07,-0.15,0.30,-0.03,0.10,0.19,-0.21,0.04,0.25,-0.12,0.16,0.08,-0.17,0.36,-0.01,0.13,0.27,-0.08,0.20,0.06,-0.24,0.11,0.23,-0.14,0.00,0.32,-0.05,0.09,0.18,-0.19,0.03,0.29,0.14,-0.10,
0.07,-0.16,0.22,0.11,-0.03,0.30,-0.10,0.02,0.17,-0.22,0.25,0.05,-0.07,0.13,-0.25,0.34,0.09,-0.01,0.20,-0.13,0.04,0.27,-0.19,0.12,0.00,0.23,-0.08,0.16,-0.15,0.31,0.06,-0.05,0.18,-0.20,0.10,0.28,
0.16,0.01,-0.12,0.28,0.08,-0.20,0.21,-0.04,0.13,0.33,-0.09,0.05,0.24,-0.16,0.10,-0.02,0.30,0.14,-0.23,0.07,0.19,-0.07,0.02,0.26,-0.11,0.17,0.35,-0.18,0.04,0.12,-0.05,0.22,0.09,-0.26,0.15,0.00,
-0.10,0.14,0.29,0.03,-0.19,0.18,0.09,-0.05,0.32,0.00,-0.14,0.23,0.11,-0.24,0.06,0.20,-0.08,0.27,0.13,-0.01,0.36,-0.17,0.08,0.16,-0.12,0.25,0.04,-0.21,0.19,0.10,-0.03,0.30,-0.15,0.07,0.22,0.01,
0.12,-0.08,0.25,0.02,-0.18,0.31,0.06,-0.03,0.18,-0.22,0.09,0.34,-0.12,0.04,0.21,-0.06,0.14,-0.25,0.28,0.00,0.10,-0.15,0.23,0.07,-0.10,0.16,-0.01,0.30,-0.20,0.05,0.19,-0.04,0.11,-0.13,0.26,0.03,
-0.05,0.20,0.08,-0.21,0.33,0.01,0.15,-0.11,0.26,-0.02,0.11,-0.24,0.19,0.05,-0.14,0.29,0.03,-0.07,0.22,0.13,-0.18,0.36,0.06,-0.09,0.17,0.00,-0.26,0.24,0.09,-0.04,0.14,0.31,-0.16,0.07,-0.01,0.21,
0.27,0.03,-0.13,0.18,-0.02,0.09,-0.23,0.32,0.12,-0.06,0.21,0.01,-0.17,0.14,0.35,-0.09,0.06,0.24,-0.27,0.10,-0.01,0.19,0.04,-0.12,0.29,0.08,-0.19,0.15,-0.04,0.22,0.11,-0.08,0.02,0.26,-0.14,0.17,
0.28,0.10,-0.20,0.18,-0.05,0.06,0.31,-0.15,0.16,-0.08,0.23,0.00,0.12,-0.19,0.27,0.04,-0.13,0.20,-0.01,0.09,0.34,-0.25,0.13,-0.07,0.05,0.25,-0.22,0.17,0.02,-0.10,0.30,-0.03,0.11,0.22,-0.16,0.07,
0.00,0.15,-0.26,0.09,0.22,-0.05,0.12,0.04,-0.18,0.35,0.17,-0.11,0.26,0.02,-0.07,0.19,0.07,-0.23,0.14,0.30,-0.02,0.10,-0.16,0.24,0.05,-0.09,0.33,0.13,-0.04,0.21,-0.20,0.08,0.28,-0.12,0.01,0.16,
0.01,0.22,0.07,-0.15,0.30,-0.03,0.10,0.19,-0.21,0.04,0.25,-0.12,0.16,0.08,-0.17,0.36,-0.01,0.13,0.27,-0.08,0.20,0.06,-0.24,0.11,0.23,-0.14,0.00,0.32,-0.05,0.09,0.18,-0.19,0.03,0.29,0.14,-0.10,
0.03,0.26,-0.13,0.11,-0.04,0.19,0.05,-0.20,0.30,-0.01,0.16,-0.10,0.07,0.23,-0.15,0.10,0.00,0.28,-0.25,0.14,-0.06,0.21,0.04,-0.12,0.34,0.09,-0.22,0.18,-0.03,0.06,0.31,-0.18,0.02,0.25,-0.08,0.12,
0.21,-0.01,0.07,-0.16,0.31,0.14,-0.04,0.09,0.24,-0.26,0.00,0.17,-0.09,0.06,0.36,-0.18,0.13,0.22,-0.07,0.03,0.29,-0.14,0.05,0.19,-0.24,0.11,-0.02,0.26,-0.11,0.15,0.01,0.33,-0.21,0.08,0.20,-0.05,
]

# dense core - second layer
band2_x = [
34.002,34.004,34.008,34.010,34.013,34.014,34.019,34.020,34.024,34.026,34.027,34.031,34.032,34.035,34.039,34.040,34.043,34.045,34.048,34.051,34.053,34.057,34.059,34.062,34.063,34.066,34.070,34.072,34.074,34.077,34.079,34.082,34.085,34.087,34.090,34.095,
34.101,34.105,34.107,34.109,34.111,34.116,34.118,34.120,34.122,34.124,34.129,34.130,34.133,34.136,34.138,34.141,34.144,34.147,34.149,34.152,34.155,34.156,34.160,34.162,34.165,34.168,34.169,34.173,34.176,34.178,34.181,34.184,34.186,34.189,34.193,34.196,
34.200,34.203,34.205,34.208,34.212,34.215,34.216,34.219,34.221,34.224,34.226,34.229,34.231,34.234,34.237,34.239,34.242,34.243,34.246,34.250,34.252,34.254,34.257,34.260,34.261,34.265,34.267,34.271,34.272,34.275,34.278,34.280,34.283,34.286,34.288,34.292,
34.302,34.304,34.308,34.310,34.313,34.314,34.319,34.320,34.324,34.326,34.327,34.331,34.332,34.335,34.339,34.340,34.343,34.345,34.348,34.351,34.353,34.357,34.359,34.362,34.363,34.366,34.370,34.372,34.374,34.377,34.379,34.382,34.385,34.387,34.390,34.395,
34.401,34.405,34.407,34.409,34.411,34.416,34.418,34.420,34.422,34.424,34.429,34.430,34.433,34.436,34.438,34.441,34.444,34.447,34.449,34.452,34.455,34.456,34.460,34.462,34.465,34.468,34.469,34.473,34.476,34.478,34.481,34.484,34.486,34.489,34.493,34.496,
34.500,34.503,34.505,34.508,34.512,34.515,34.516,34.519,34.521,34.524,34.526,34.529,34.531,34.534,34.537,34.539,34.542,34.543,34.546,34.550,34.552,34.554,34.557,34.560,34.561,34.565,34.567,34.571,34.572,34.575,34.578,34.580,34.583,34.586,34.588,34.592,
34.602,34.604,34.608,34.610,34.613,34.614,34.619,34.620,34.624,34.626,34.627,34.631,34.632,34.635,34.639,34.640,34.643,34.645,34.648,34.651,34.653,34.657,34.659,34.662,34.663,34.666,34.670,34.672,34.674,34.677,34.679,34.682,34.685,34.687,34.690,34.695,
34.701,34.705,34.707,34.709,34.711,34.716,34.718,34.720,34.722,34.724,34.729,34.730,34.733,34.736,34.738,34.741,34.744,34.747,34.749,34.752,34.755,34.756,34.760,34.762,34.765,34.768,34.769,34.773,34.776,34.778,34.781,34.784,34.786,34.789,34.793,34.796,
34.800,34.803,34.805,34.808,34.812,34.815,34.816,34.819,34.821,34.824,34.826,34.829,34.831,34.834,34.837,34.839,34.842,34.843,34.846,34.850,34.852,34.854,34.857,34.860,34.861,34.865,34.867,34.871,34.872,34.875,34.878,34.880,34.883,34.886,34.888,34.892,
34.902,34.904,34.908,34.910,34.913,34.914,34.919,34.920,34.924,34.926,34.927,34.931,34.932,34.935,34.939,34.940,34.943,34.945,34.948,34.951,34.953,34.957,34.959,34.962,34.963,34.966,34.970,34.972,34.974,34.977,34.979,34.982,34.985,34.987,34.990,34.995,
35.301,35.305,35.307,35.309,35.311,35.316,35.318,35.320,35.322,35.324,35.329,35.330,35.333,35.336,35.338,35.341,35.344,35.347,35.349,35.352,35.355,35.356,35.360,35.362,35.365,35.368,35.369,35.373,35.376,35.378,35.381,35.384,35.386,35.389,35.393,35.396,
35.400,35.403,35.405,35.408,35.412,35.415,35.416,35.419,35.421,35.424,35.426,35.429,35.431,35.434,35.437,35.439,35.442,35.443,35.446,35.450,35.452,35.454,35.457,35.460,35.461,35.465,35.467,35.471,35.472,35.475,35.478,35.480,35.483,35.486,35.488,35.492,
35.502,35.504,35.508,35.510,35.513,35.514,35.519,35.520,35.524,35.526,35.527,35.531,35.532,35.535,35.539,35.540,35.543,35.545,35.548,35.551,35.553,35.557,35.559,35.562,35.563,35.566,35.570,35.572,35.574,35.577,35.579,35.582,35.585,35.587,35.590,35.595,
35.601,35.605,35.607,35.609,35.611,35.616,35.618,35.620,35.622,35.624,35.629,35.630,35.633,35.636,35.638,35.641,35.644,35.647,35.649,35.652,35.655,35.656,35.660,35.662,35.665,35.668,35.669,35.673,35.676,35.678,35.681,35.684,35.686,35.689,35.693,35.696,
35.700,35.703,35.705,35.708,35.712,35.715,35.716,35.719,35.721,35.724,35.726,35.729,35.731,35.734,35.737,35.739,35.742,35.743,35.746,35.750,35.752,35.754,35.757,35.760,35.761,35.765,35.767,35.771,35.772,35.775,35.778,35.780,35.783,35.786,35.788,35.792,
35.802,35.804,35.808,35.810,35.813,35.814,35.819,35.820,35.824,35.826,35.827,35.831,35.832,35.835,35.839,35.840,35.843,35.845,35.848,35.851,35.853,35.857,35.859,35.862,35.863,35.866,35.870,35.872,35.874,35.877,35.879,35.882,35.885,35.887,35.890,35.895,
35.901,35.905,35.907,35.909,35.911,35.916,35.918,35.920,35.922,35.924,35.929,35.930,35.933,35.936,35.938,35.941,35.944,35.947,35.949,35.952,35.955,35.956,35.960,35.962,35.965,35.968,35.969,35.973,35.976,35.978,35.981,35.984,35.986,35.989,35.993,35.996,
36.000,36.003,36.005,36.008,36.012,36.015,36.016,36.019,36.021,36.024,36.026,36.029,36.031,36.034,36.037,36.039,36.042,36.043,36.046,36.050,36.052,36.054,36.057,36.060,36.061,36.065,36.067,36.071,36.072,36.075,36.078,36.080,36.083,36.086,36.088,36.092,
36.102,36.104,36.108,36.110,36.113,36.114,36.119,36.120,36.124,36.126,36.127,36.131,36.132,36.135,36.139,36.140,36.143,36.145,36.148,36.151,36.153,36.157,36.159,36.162,36.163,36.166,36.170,36.172,36.174,36.177,36.179,36.182,36.185,36.187,36.190,36.195,
36.201,36.205,36.207,36.209,36.211,36.216,36.218,36.220,36.222,36.224,36.229,36.230,36.233,36.236,36.238,36.241,36.244,36.247,36.249,36.252,36.255,36.256,36.260,36.262,36.265,36.268,36.269,36.273,36.276,36.278,36.281,36.284,36.286,36.289,36.293,36.296,
36.300,36.303,36.305,36.308,36.312,36.315,36.316,36.319,36.321,36.324,36.326,36.329,36.331,36.334,36.337,36.339,36.342,36.343,36.346,36.350,36.352,36.354,36.357,36.360,36.361,36.365,36.367,36.371,36.372,36.375,36.378,36.380,36.383,36.386,36.388,36.392,
36.402,36.404,36.408,36.410,36.413,36.414,36.419,36.420,36.424,36.426,36.427,36.431,36.432,36.435,36.439,36.440,36.443,36.445,36.448,36.451,36.453,36.457,36.459,36.462,36.463,36.466,36.470,36.472,36.474,36.477,36.479,36.482,36.485,36.487,36.490,36.495,
36.901,36.905,36.907,36.909,36.911,36.916,36.918,36.920,36.922,36.924,36.929,36.930,36.933,36.936,36.938,36.941,36.944,36.947,36.949,36.952,36.955,36.956,36.960,36.962,36.965,36.968,36.969,36.973,36.976,36.978,36.981,36.984,36.986,36.989,36.993,36.996,
]
band2_y = [
0.05,0.17,-0.06,0.24,0.10,-0.14,0.02,0.19,-0.09,0.13,0.28,-0.02,0.08,-0.18,0.15,0.04,0.22,-0.11,0.11,0.00,0.26,-0.05,0.14,0.07,-0.16,0.20,0.03,-0.08,0.17,0.09,-0.21,0.12,0.25,-0.03,0.06,0.16,
0.13,-0.04,0.09,0.21,-0.13,0.05,0.27,0.01,-0.19,0.15,0.07,-0.07,0.23,0.11,-0.01,0.18,-0.15,0.03,0.29,0.08,-0.10,0.14,0.02,0.20,-0.06,0.10,-0.22,0.16,0.06,0.24,-0.02,0.12,-0.12,0.19,0.04,-0.08,
-0.02,0.10,0.18,-0.12,0.06,0.23,0.01,-0.07,0.15,0.30,-0.16,0.09,0.04,0.20,-0.04,0.12,-0.20,0.17,0.07,-0.09,0.25,0.02,0.13,-0.14,0.08,0.21,-0.01,0.11,-0.17,0.16,0.05,0.27,-0.06,0.14,0.00,0.19,
0.09,0.22,-0.08,0.03,0.16,-0.17,0.11,0.26,-0.03,0.07,-0.12,0.19,0.13,-0.05,0.02,0.24,-0.19,0.10,0.17,-0.01,0.06,0.28,-0.10,0.15,0.04,-0.15,0.21,0.08,-0.06,0.12,0.00,0.18,-0.21,0.14,0.25,-0.02,
0.18,0.04,-0.10,0.12,0.26,-0.03,0.08,-0.18,0.21,0.14,0.01,-0.07,0.16,0.23,-0.13,0.06,0.10,-0.01,0.28,-0.20,0.13,0.03,0.19,-0.05,0.09,0.25,-0.15,0.11,0.00,0.17,-0.09,0.07,0.22,-0.02,0.15,-0.12,
0.00,0.14,0.21,-0.11,0.07,-0.04,0.18,0.11,-0.16,0.25,0.03,0.09,-0.08,0.15,0.29,-0.02,0.12,-0.20,0.06,0.20,-0.06,0.10,0.16,-0.13,0.04,0.23,-0.09,0.13,0.01,-0.18,0.19,0.08,-0.03,0.26,0.11,-0.14,
0.05,0.17,-0.06,0.24,0.10,-0.14,0.02,0.19,-0.09,0.13,0.28,-0.02,0.08,-0.18,0.15,0.04,0.22,-0.11,0.11,0.00,0.26,-0.05,0.14,0.07,-0.16,0.20,0.03,-0.08,0.17,0.09,-0.21,0.12,0.25,-0.03,0.06,0.16,
0.13,-0.04,0.09,0.21,-0.13,0.05,0.27,0.01,-0.19,0.15,0.07,-0.07,0.23,0.11,-0.01,0.18,-0.15,0.03,0.29,0.08,-0.10,0.14,0.02,0.20,-0.06,0.10,-0.22,0.16,0.06,0.24,-0.02,0.12,-0.12,0.19,0.04,-0.08,
-0.02,0.10,0.18,-0.12,0.06,0.23,0.01,-0.07,0.15,0.30,-0.16,0.09,0.04,0.20,-0.04,0.12,-0.20,0.17,0.07,-0.09,0.25,0.02,0.13,-0.14,0.08,0.21,-0.01,0.11,-0.17,0.16,0.05,0.27,-0.06,0.14,0.00,0.19,
0.09,0.22,-0.08,0.03,0.16,-0.17,0.11,0.26,-0.03,0.07,-0.12,0.19,0.13,-0.05,0.02,0.24,-0.19,0.10,0.17,-0.01,0.06,0.28,-0.10,0.15,0.04,-0.15,0.21,0.08,-0.06,0.12,0.00,0.18,-0.21,0.14,0.25,-0.02,
0.18,0.04,-0.10,0.12,0.26,-0.03,0.08,-0.18,0.21,0.14,0.01,-0.07,0.16,0.23,-0.13,0.06,0.10,-0.01,0.28,-0.20,0.13,0.03,0.19,-0.05,0.09,0.25,-0.15,0.11,0.00,0.17,-0.09,0.07,0.22,-0.02,0.15,-0.12,
0.00,0.14,0.21,-0.11,0.07,-0.04,0.18,0.11,-0.16,0.25,0.03,0.09,-0.08,0.15,0.29,-0.02,0.12,-0.20,0.06,0.20,-0.06,0.10,0.16,-0.13,0.04,0.23,-0.09,0.13,0.01,-0.18,0.19,0.08,-0.03,0.26,0.11,-0.14,
0.05,0.17,-0.06,0.24,0.10,-0.14,0.02,0.19,-0.09,0.13,0.28,-0.02,0.08,-0.18,0.15,0.04,0.22,-0.11,0.11,0.00,0.26,-0.05,0.14,0.07,-0.16,0.20,0.03,-0.08,0.17,0.09,-0.21,0.12,0.25,-0.03,0.06,0.16,
0.13,-0.04,0.09,0.21,-0.13,0.05,0.27,0.01,-0.19,0.15,0.07,-0.07,0.23,0.11,-0.01,0.18,-0.15,0.03,0.29,0.08,-0.10,0.14,0.02,0.20,-0.06,0.10,-0.22,0.16,0.06,0.24,-0.02,0.12,-0.12,0.19,0.04,-0.08,
-0.02,0.10,0.18,-0.12,0.06,0.23,0.01,-0.07,0.15,0.30,-0.16,0.09,0.04,0.20,-0.04,0.12,-0.20,0.17,0.07,-0.09,0.25,0.02,0.13,-0.14,0.08,0.21,-0.01,0.11,-0.17,0.16,0.05,0.27,-0.06,0.14,0.00,0.19,
0.09,0.22,-0.08,0.03,0.16,-0.17,0.11,0.26,-0.03,0.07,-0.12,0.19,0.13,-0.05,0.02,0.24,-0.19,0.10,0.17,-0.01,0.06,0.28,-0.10,0.15,0.04,-0.15,0.21,0.08,-0.06,0.12,0.00,0.18,-0.21,0.14,0.25,-0.02,
0.18,0.04,-0.10,0.12,0.26,-0.03,0.08,-0.18,0.21,0.14,0.01,-0.07,0.16,0.23,-0.13,0.06,0.10,-0.01,0.28,-0.20,0.13,0.03,0.19,-0.05,0.09,0.25,-0.15,0.11,0.00,0.17,-0.09,0.07,0.22,-0.02,0.15,-0.12,
0.00,0.14,0.21,-0.11,0.07,-0.04,0.18,0.11,-0.16,0.25,0.03,0.09,-0.08,0.15,0.29,-0.02,0.12,-0.20,0.06,0.20,-0.06,0.10,0.16,-0.13,0.04,0.23,-0.09,0.13,0.01,-0.18,0.19,0.08,-0.03,0.26,0.11,-0.14,
0.05,0.17,-0.06,0.24,0.10,-0.14,0.02,0.19,-0.09,0.13,0.28,-0.02,0.08,-0.18,0.15,0.04,0.22,-0.11,0.11,0.00,0.26,-0.05,0.14,0.07,-0.16,0.20,0.03,-0.08,0.17,0.09,-0.21,0.12,0.25,-0.03,0.06,0.16,
0.13,-0.04,0.09,0.21,-0.13,0.05,0.27,0.01,-0.19,0.15,0.07,-0.07,0.23,0.11,-0.01,0.18,-0.15,0.03,0.29,0.08,-0.10,0.14,0.02,0.20,-0.06,0.10,-0.22,0.16,0.06,0.24,-0.02,0.12,-0.12,0.19,0.04,-0.08,
-0.02,0.10,0.18,-0.12,0.06,0.23,0.01,-0.07,0.15,0.30,-0.16,0.09,0.04,0.20,-0.04,0.12,-0.20,0.17,0.07,-0.09,0.25,0.02,0.13,-0.14,0.08,0.21,-0.01,0.11,-0.17,0.16,0.05,0.27,-0.06,0.14,0.00,0.19,
0.09,0.22,-0.08,0.03,0.16,-0.17,0.11,0.26,-0.03,0.07,-0.12,0.19,0.13,-0.05,0.02,0.24,-0.19,0.10,0.17,-0.01,0.06,0.28,-0.10,0.15,0.04,-0.15,0.21,0.08,-0.06,0.12,0.00,0.18,-0.21,0.14,0.25,-0.02,
0.18,0.04,-0.10,0.12,0.26,-0.03,0.08,-0.18,0.21,0.14,0.01,-0.07,0.16,0.23,-0.13,0.06,0.10,-0.01,0.28,-0.20,0.13,0.03,0.19,-0.05,0.09,0.25,-0.15,0.11,0.00,0.17,-0.09,0.07,0.22,-0.02,0.15,-0.12,
]

# dotted guides linking the windows to the whole region (bottom panel coordinates,
# each guide is a list of vertices)
guide_a_x = [33.796, 35.0, 35.0]
guide_a_y = [4.681, 2.559, -1.375]
guide_b_x = [35.315, 35.315]
guide_b_y = [5.13, -1.343]
guide_c_x = [35.764, 36.483, 36.483]
guide_c_y = [4.681, 2.681, -1.397]
guide_d_x = [37.188, 36.901, 36.901]
guide_d_y = [4.681, 2.713, -1.48]

# ---------------- layout constants ----------------
TOP_W, TOP_H = 967, 552
OVERLAP = 63                      # the lower panel's (transparent) canvas slides under the upper titles
BOT_W, BOT_H = 1934, 1031 + OVERLAP
TOP_Y_RANGE = (-2.2, 2.2)
TL_X_RANGE = (34.98563, 35.31547)
TR_X_RANGE = (36.47957, 36.91696)
BOT_X_RANGE = (33.853, 37.2264)
BOT_Y_RANGE = (-3.539, 5.150)
BOT_X_AXIS_END = 37.14
BOT_Y_AXIS_TOP = 3.49


def style_axis(ax, tick_size, title_size, label_standoff, title_standoff, line_w):
    ax.axis_line_color = "black"
    ax.axis_line_width = line_w
    ax.major_tick_line_color = "#333333"
    ax.major_tick_line_width = line_w
    ax.major_tick_out = 6
    ax.major_tick_in = 0
    ax.minor_tick_line_color = None
    ax.major_label_text_font = FONT
    ax.major_label_text_font_size = tick_size
    ax.major_label_text_color = "#3a3a3a"
    ax.major_label_standoff = label_standoff
    ax.axis_label_text_font = FONT
    ax.axis_label_text_font_size = title_size
    ax.axis_label_text_font_style = "normal"
    ax.axis_label_text_color = "black"
    ax.axis_label_standoff = title_standoff


def base_fig(w, h, xr, yr, bl, br, bt, bb, fill="white"):
    p = figure(width=w, height=h, x_range=Range1d(*xr), y_range=Range1d(*yr),
               output_backend="svg", toolbar_location=None,
               min_border_left=bl, min_border_right=br,
               min_border_top=bt, min_border_bottom=bb)
    p.xgrid.visible = False
    p.ygrid.visible = False
    p.outline_line_color = None
    p.background_fill_color = fill
    p.border_fill_color = fill
    return p


def make_top(xr, ticks, pts, sx, sy, se, bl, br):
    p = base_fig(TOP_W, TOP_H, xr, TOP_Y_RANGE, bl, br, 0, 123)
    p.scatter([q[0] for q in pts], [q[1] for q in pts], marker="square",
              angle=math.pi / 4, size=5.8, fill_color=POINT_GREEN, line_color=None)
    lo = [a - b for a, b in zip(sy, se)]
    hi = [a + b for a, b in zip(sy, se)]
    p.varea(x=sx, y1=lo, y2=hi, fill_color=BAND_GREY, fill_alpha=0.4)
    p.line(sx, sy, line_color=SMOOTH_BLUE, line_width=2.6)
    p.add_layout(Span(location=0, dimension="width", line_color="black", line_width=1.7))
    p.xaxis.ticker = FixedTicker(ticks=ticks)
    p.xaxis.formatter = NumeralTickFormatter(format="0.0")
    p.yaxis.ticker = FixedTicker(ticks=top_y_ticks)
    p.yaxis.formatter = NumeralTickFormatter(format="0")
    p.xaxis.axis_label = X_TITLE
    p.yaxis.axis_label = Y_TITLE
    style_axis(p.xaxis[0], "35px", "43px", 19, 3, 1.7)
    style_axis(p.yaxis[0], "35px", "43px", 4, 2, 1.7)
    return p


p_tl = make_top(TL_X_RANGE, tl_ticks, tl_points, tl_smooth_x, tl_smooth_y, tl_smooth_se, 91, 66)
p_tr = make_top(TR_X_RANGE, tr_ticks, tr_points, tr_smooth_x, tr_smooth_y, tr_smooth_se, 160, 0)

# bottom: whole region
all_pts = (bottom_points + list(zip(band_x, band_y)) + list(zip(band2_x, band2_y))
           + tl_points + tr_points)
p_b = base_fig(BOT_W, BOT_H, BOT_X_RANGE, BOT_Y_RANGE, 137, 0, 0, 95, fill=None)
p_b.margin = (-OVERLAP, 0, 0, 0)
p_b.scatter([q[0] for q in all_pts], [q[1] for q in all_pts], size=9,
            fill_color=POINT_GREEN, line_color=None)
p_b.segment(x0=[BOT_X_RANGE[0]], y0=[0], x1=[BOT_X_AXIS_END], y1=[0],
            line_color="black", line_width=2)
for gx, gy in ((guide_a_x, guide_a_y), (guide_b_x, guide_b_y),
               (guide_c_x, guide_c_y), (guide_d_x, guide_d_y)):
    p_b.line(gx, gy, line_color=GUIDE_GREY, line_width=3, line_dash="1 10", line_cap="round")
p_b.xaxis.ticker = FixedTicker(ticks=bottom_x_ticks)
p_b.xaxis.formatter = NumeralTickFormatter(format="0")
p_b.yaxis.ticker = FixedTicker(ticks=bottom_y_ticks)
p_b.yaxis.formatter = NumeralTickFormatter(format="0")
p_b.xaxis.bounds = (BOT_X_RANGE[0], BOT_X_AXIS_END)
p_b.yaxis.bounds = (BOT_Y_RANGE[0], BOT_Y_AXIS_TOP)
p_b.xaxis.axis_label = X_TITLE
p_b.yaxis.axis_label = Y_TITLE
style_axis(p_b.xaxis[0], "36px", "43px", 6, 2, 2)
style_axis(p_b.yaxis[0], "37px", "44px", 8, -7, 2)

layout = column(row(p_tl, p_tr), p_b)
open("out.html", "w").write(file_html(layout, INLINE))
